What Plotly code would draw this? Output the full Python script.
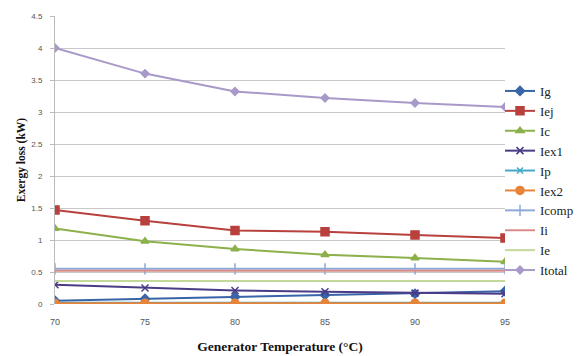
import plotly.graph_objects as go

temps = [70, 75, 80, 85, 90, 95]
Ig = [0.05, 0.08, 0.11, 0.14, 0.16, 0.20]
Iej = [1.47, 1.30, 1.15, 1.13, 1.08, 1.03]
Ic = [1.18, 0.98, 0.86, 0.77, 0.72, 0.66]
Iex1 = [0.30, 0.25, 0.21, 0.19, 0.17, 0.16]
Ip = [0.02, 0.02, 0.02, 0.02, 0.02, 0.02]
Iex2 = [0.01, 0.01, 0.01, 0.01, 0.01, 0.01]
Icomp = [0.55, 0.55, 0.55, 0.55, 0.55, 0.55]
Ii = [0.52, 0.52, 0.52, 0.52, 0.52, 0.52]
Ie = [0.36, 0.36, 0.36, 0.36, 0.36, 0.36]
Itotal = [4.00, 3.60, 3.32, 3.22, 3.14, 3.08]

names = ["Ig", "Iej", "Ic", "Iex1", "Ip", "Iex2", "Icomp", "Ii", "Ie", "Itotal"]
values = [Ig, Iej, Ic, Iex1, Ip, Iex2, Icomp, Ii, Ie, Itotal]
colors = ["#3A64A8", "#B8403D", "#8CB04A", "#4A3C86", "#46A9C8", "#E8833A",
          "#8EA9D6", "#D98C8A", "#C2D99A", "#A899C9"]
symbols = ["diamond", "square", "triangle-up", "x-thin", "x-thin", "circle",
           "line-ns", None, None, "diamond"]
sizes = [7, 8, 7, 7, 6, 8, 8, 0, 0, 6]

W, H = 575, 348

fig = go.Figure()
for n, v, c, s, sz in zip(names, values, colors, symbols, sizes):
    if s is None:
        fig.add_trace(go.Scatter(x=temps, y=v, name=n, mode="lines",
                                 line=dict(color=c, width=2)))
    else:
        fig.add_trace(go.Scatter(x=temps, y=v, name=n, mode="lines+markers",
                                 line=dict(color=c, width=2),
                                 marker=dict(symbol=s, size=sz, color=c,
                                             line=dict(color=c, width=1.5))))

fig.update_layout(
    width=W, height=H,
    margin=dict(l=47, r=78, t=8, b=52, autoexpand=False),
    plot_bgcolor="white", paper_bgcolor="white",
    showlegend=True,
    legend=dict(xref="container", yref="container", x=492 / W, y=1 - 68 / H,
                xanchor="left", yanchor="top", maxheight=1,
                font=dict(family="Liberation Serif, Times New Roman, serif", size=13, color="#222"),
                itemwidth=30, tracegroupgap=0, bgcolor="rgba(0,0,0,0)"),
    font=dict(family="Liberation Sans, Arial, sans-serif", color="#555"),
)
fig.update_xaxes(
    range=[70, 95], tickvals=temps, ticktext=[str(t) for t in temps],
    showgrid=False, zeroline=False, showline=False, automargin=False,
    tickfont=dict(size=9, color="#555"), ticks="", ticklabelstandoff=11,
    title=dict(text="Generator Temperature (°C)", standoff=15,
               font=dict(family="Liberation Serif, Times New Roman, serif", size=13.5, color="#111", weight="bold")),
)
fig.update_yaxes(
    range=[0, 4.5], tickvals=[0, 0.5, 1, 1.5, 2, 2.5, 3, 3.5, 4, 4.5],
    ticktext=["0", "0.5", "1", "1.5", "2", "2.5", "3", "3.5", "4", "4.5"],
    showgrid=True, gridcolor="#C8C8C8", gridwidth=1, zeroline=False,
    showline=True, linecolor="#BBBBBB", linewidth=1, automargin=False,
    tickfont=dict(size=8, color="#555"), ticks="outside", ticklen=4, tickcolor="#BBBBBB",
    ticklabelstandoff=6,
    title=dict(text="Exergy loss (kW)", standoff=3,
               font=dict(family="Liberation Serif, Times New Roman, serif", size=11.5, color="#111", weight="bold")),
)
fig.write_html("out.html")
